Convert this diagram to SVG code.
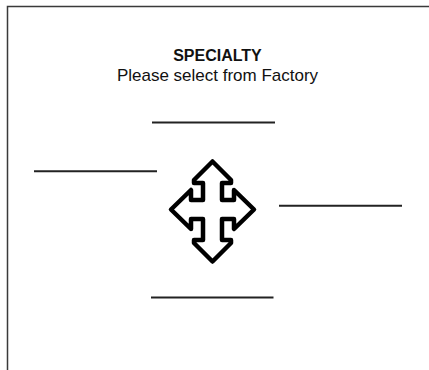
<svg xmlns="http://www.w3.org/2000/svg" width="429" height="370" viewBox="0 0 429 370">
<style>
.frame{fill:none;stroke:#3a3a3a;stroke-width:1.5}
.blank{stroke:#222;stroke-width:2;fill:none}
.t{font-family:"Liberation Sans",Arial,sans-serif;fill:#111;text-anchor:middle}
</style>
<rect width="429" height="370" fill="#fff"/>
<g id="frame"><path class="frame" d="M7.5,370 V6.5 H429"/></g>
<g id="title">
<text class="t" x="217.5" y="61" font-size="16" font-weight="bold">SPECIALTY</text>
<text class="t" x="217.5" y="81" font-size="17">Please select from Factory</text>
</g>
<g id="connectors">
<line class="blank" x1="152" y1="122.5" x2="275" y2="122.5"/>
<line class="blank" x1="34" y1="171.3" x2="157" y2="171.3"/>
<line class="blank" x1="279" y1="205.7" x2="402" y2="205.7"/>
<line class="blank" x1="151" y1="297.5" x2="273.5" y2="297.5"/>
</g>
<g id="move-icon">
<path d="M212.5,161.5 L231,180 L231,183 L222,183 L222,200 L234,200 L234,190 L254,209.5 L234,229 L234,219 L222,219 L222,240 L231,240 L231,243 L212.5,261.5 L194,243 L194,240 L203,240 L203,219 L191,219 L191,229 L171,209.5 L191,190 L191,200 L203,200 L203,183 L194,183 L194,180 Z" fill="#fff" stroke="#000" stroke-width="4.5" stroke-linejoin="round"/>
</g>
</svg>
